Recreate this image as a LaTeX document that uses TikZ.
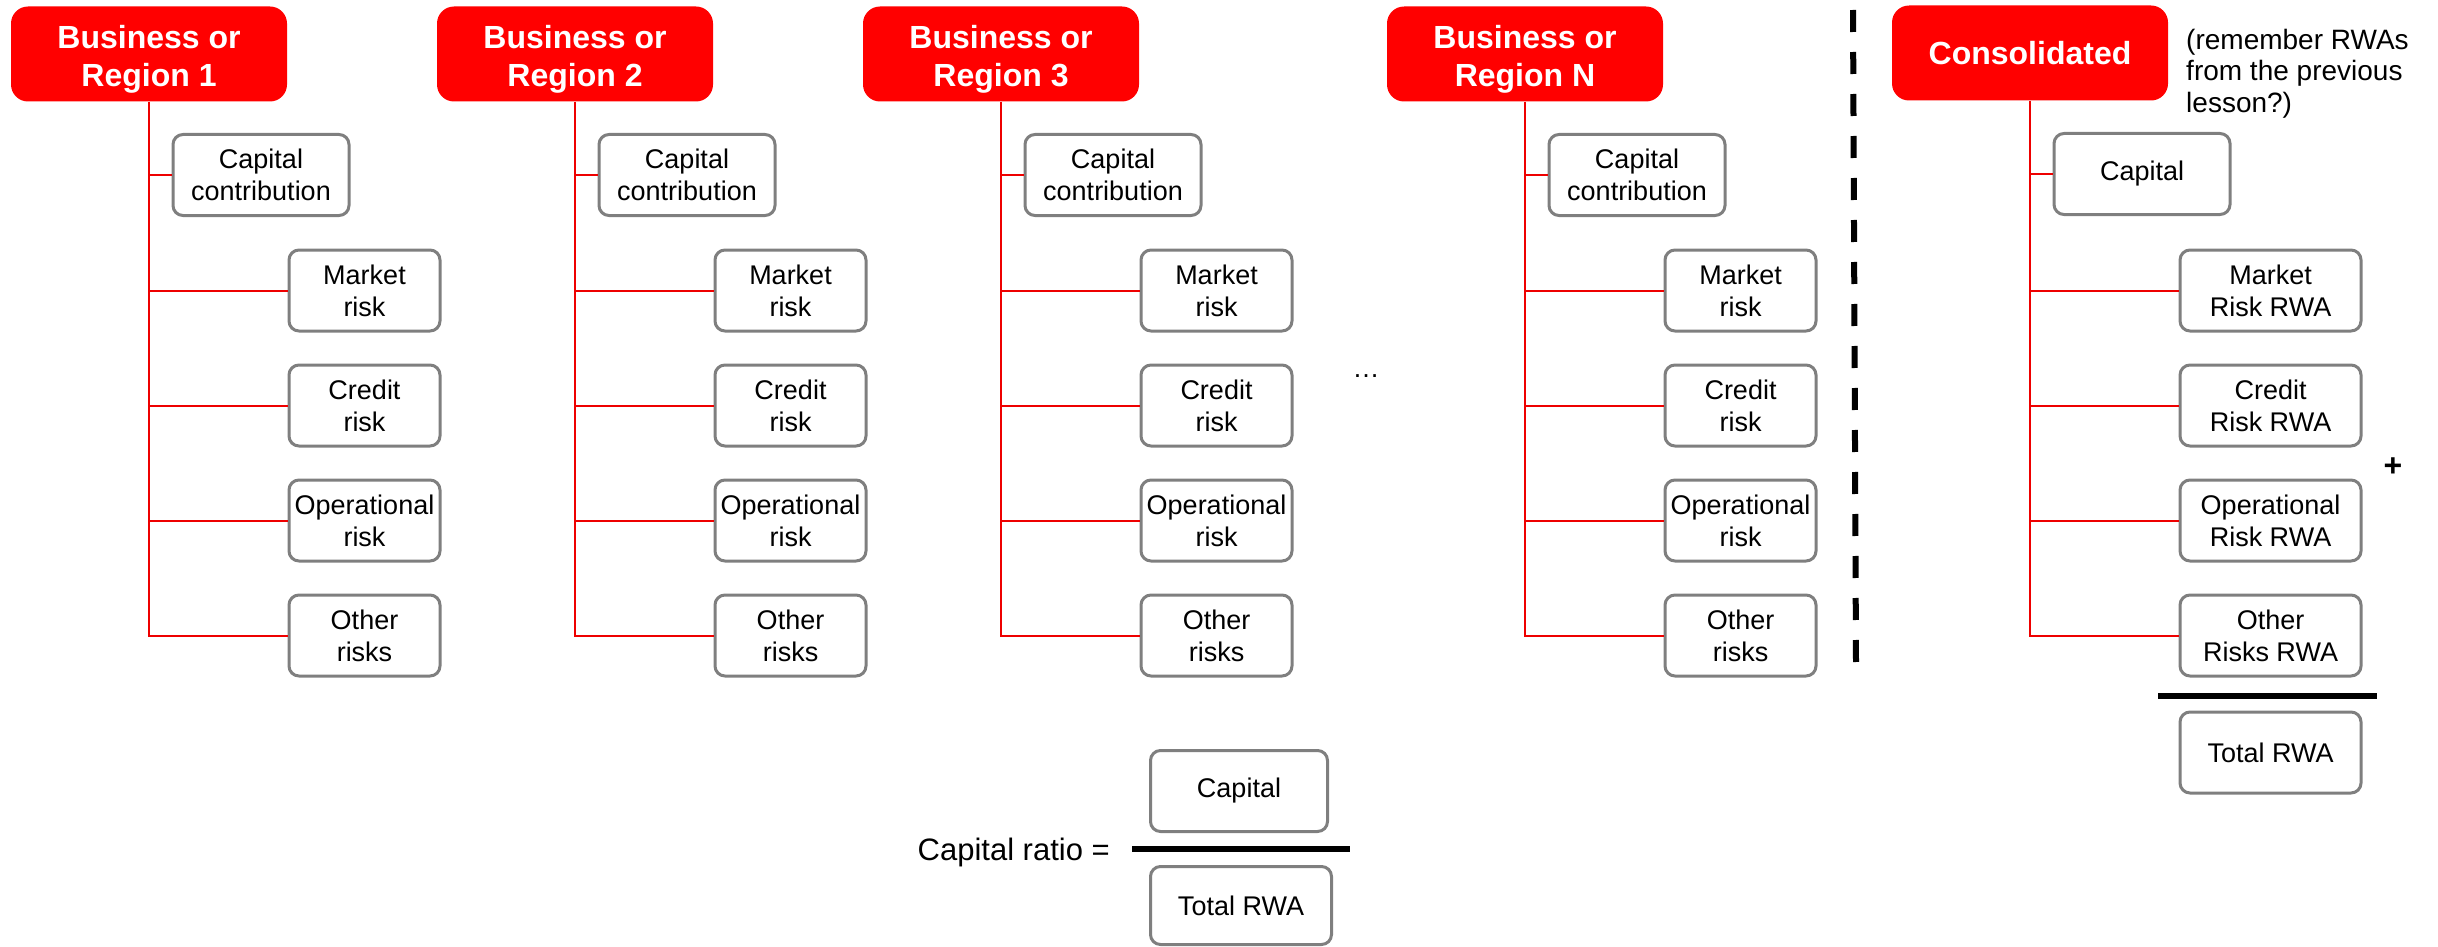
\documentclass[tikz,border=0pt]{standalone}
\usepackage{fontspec}
\setmainfont{Liberation Sans}
\definecolor{boxgrey}{HTML}{7F7F7F}
\definecolor{hdrred}{HTML}{FF0000}
\definecolor{linered}{HTML}{EE0000}
\tikzset{
  hdr/.style={fill=hdrred, rounded corners=17pt, minimum width=276pt, minimum height=95pt,
    text=white, font=\fontsize{32}{38}\selectfont\bfseries, align=center, inner sep=0pt},
  hdrtwo/.style={hdr, text height=65pt, text depth=0pt},
  itembox/.style={draw=boxgrey, line width=3pt, rounded corners=10pt, fill=white,
    minimum height=81pt, align=center, font=\fontsize{27}{32}\selectfont, inner sep=0pt},
  capbox/.style={itembox, minimum width=176pt},
  riskbox/.style={itembox, minimum width=151pt},
  rwabox/.style={itembox, minimum width=181pt},
  branch/.style={draw=linered, line width=2pt},
  rule/.style={draw=black, line width=6pt},
  note/.style={font=\fontsize{28}{31.5}\selectfont, align=left, inner sep=0pt},
}
\begin{document}
\begin{tikzpicture}[x=1pt,y=-1pt]
\useasboundingbox (0,0) rectangle (2438,947);
% business / region columns
\foreach \cx/\lab/\nm in {149/1/a, 575/2/b, 1001/3/c, 1525/N/n}{
  \node[hdrtwo] (h\nm) at (\cx,54) {Business or\\Region \lab};
  \node[capbox, anchor=west] (c\nm) at (\cx+22.5,175) {Capital\\contribution};
  \node[riskbox, anchor=west] (ra\nm) at (\cx+138.5,290.5) {Market\\risk};
  \node[riskbox, anchor=west] (rb\nm) at (\cx+138.5,405.5) {Credit\\risk};
  \node[riskbox, anchor=west] (rc\nm) at (\cx+138.5,520.5) {Operational\\risk};
  \node[riskbox, anchor=west] (rd\nm) at (\cx+138.5,635.5) {Other\\risks};
  \draw[branch] (h\nm.south) |- (rd\nm.west);
  \draw[branch] (h\nm.south |- c\nm.west) -- (c\nm.west);
  \draw[branch] (h\nm.south |- ra\nm.west) -- (ra\nm.west);
  \draw[branch] (h\nm.south |- rb\nm.west) -- (rb\nm.west);
  \draw[branch] (h\nm.south |- rc\nm.west) -- (rc\nm.west);
}
\node[font=\fontsize{27}{32}\selectfont, anchor=base, inner sep=0pt] (dots) at (1366,377) {…};
% separator
\draw[line width=6pt, dash pattern=on 22pt off 20pt] (1853,10) -- (1856,664);
% consolidated
\node[hdr] (hcons) at (2030,53) {Consolidated};
\node[note, anchor=north west] (remark) at (2186,29) {(remember RWAs\\from the previous\\lesson?)};
\node[capbox, anchor=west] (ccap) at (2052.5,174) {Capital};
\node[rwabox, anchor=west] (cra) at (2178.5,290.5) {Market\\Risk RWA};
\node[rwabox, anchor=west] (crb) at (2178.5,405.5) {Credit\\Risk RWA};
\node[rwabox, anchor=west] (crc) at (2178.5,520.5) {Operational\\Risk RWA};
\node[rwabox, anchor=west] (crd) at (2178.5,635.5) {Other\\Risks RWA};
\draw[branch] (hcons.south) |- (crd.west);
\draw[branch] (hcons.south |- ccap.west) -- (ccap.west);
\draw[branch] (hcons.south |- cra.west) -- (cra.west);
\draw[branch] (hcons.south |- crb.west) -- (crb.west);
\draw[branch] (hcons.south |- crc.west) -- (crc.west);
\node[font=\fontsize{32}{38}\selectfont\bfseries, inner sep=0pt] (plus) at (2393,467) {+};
\draw[rule] (2158,696) -- (2377,696);
\node[rwabox, anchor=west] (ctot) at (2178.5,752.5) {Total RWA};
% capital ratio
\node[font=\fontsize{31}{37}\selectfont, anchor=base east, inner sep=0pt] (ratio) at (1110,860) {Capital ratio =};
\node[capbox, minimum width=177pt] (numcap) at (1239,791) {Capital};
\draw[rule] (1132,849) -- (1350,849);
\node[rwabox, minimum height=78pt] (dentot) at (1241,905.5) {Total RWA};
\end{tikzpicture}
\end{document}
